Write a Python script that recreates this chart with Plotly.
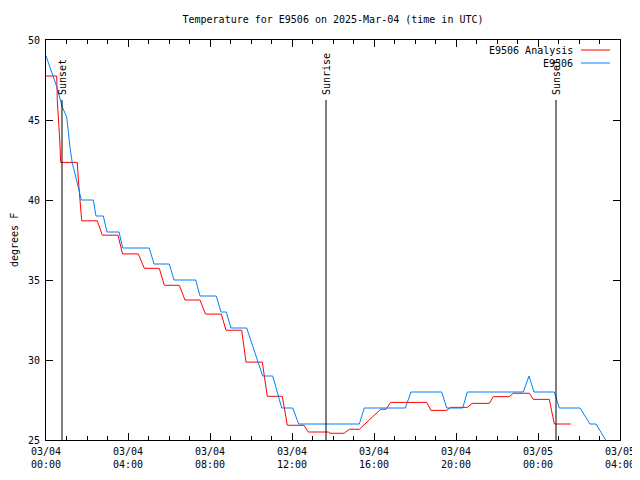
import pandas as pd
import plotly.graph_objects as go

BASE = pd.Timestamp("2025-03-04 00:00")

# Analysis series (hours after 03/04 00:00 UTC, degrees F)
analysis_hours = [0.0, 0.522, 0.551, 0.620, 0.668, 0.717, 1.527, 1.576, 1.644, 1.741,
                  2.502, 2.746, 3.512, 3.732, 4.502, 4.795, 5.527, 5.771, 6.502, 6.780,
                  7.512, 7.780, 8.551, 8.780, 9.546, 9.756, 10.551, 10.795, 11.527, 11.771,
                  12.585, 12.795, 13.771, 13.854, 14.551, 14.795, 15.283, 16.327, 16.585, 16.815,
                  18.571, 18.780, 19.546, 19.741, 20.551, 20.795, 21.624, 21.820, 22.600, 22.795,
                  23.576, 23.771, 24.551, 24.795, 25.595]
analysis_temp = [47.75, 47.75, 46.2, 45.1, 43.8, 42.35, 42.35, 41.3, 40.1, 38.7,
                 38.7, 37.8, 37.8, 36.63, 36.63, 35.73, 35.73, 34.67, 34.67, 33.75,
                 33.75, 32.87, 32.87, 31.86, 31.86, 29.87, 29.87, 27.73, 27.73, 25.92,
                 25.92, 25.5, 25.5, 25.42, 25.42, 25.67, 25.67, 26.92, 26.92, 27.35,
                 27.35, 26.85, 26.85, 27.04, 27.04, 27.29, 27.29, 27.71, 27.71, 27.92,
                 27.92, 27.54, 27.54, 26.0, 26.0]

# Observed series
obs_hours = [0.0, 0.522, 0.795, 1.010, 1.170, 1.283, 1.527, 1.722, 2.307, 2.439,
             2.795, 2.976, 3.561, 3.741, 5.039, 5.268, 6.015, 6.244, 7.302, 7.512,
             8.307, 8.537, 8.795, 9.024, 9.790, 10.571, 11.059, 11.498, 12.034, 12.327,
             15.283, 15.527, 17.527, 17.805, 19.302, 19.546, 20.327, 20.551, 23.283, 23.561,
             23.805, 24.795, 25.039, 26.049, 26.537, 26.829, 27.303]
obs_temp = [49, 47.1, 45.8, 45.2, 43.3, 42.3, 41.05, 40, 40, 39,
            39, 38, 38, 37, 37, 36, 36, 35, 35, 34,
            34, 33, 33, 32, 32, 29, 29, 27, 27, 26,
            26, 27, 27, 28, 28, 27, 27, 28, 28, 29,
            28, 28, 27, 27, 26, 26, 25]

# Sun events
sun_labels = ["Sunset", "Sunrise", "Sunset"]
sun_hours = [0.78, 13.66, 24.878]
sun_line_top = 46.25

tick_hours = [0, 4, 8, 12, 16, 20, 24, 28]
tick_text = ["03/04<br>00:00", "03/04<br>04:00", "03/04<br>08:00", "03/04<br>12:00",
             "03/04<br>16:00", "03/04<br>20:00", "03/05<br>00:00", "03/05<br>04:00"]
y_ticks = [25, 30, 35, 40, 45, 50]

def to_time(hours):
    return [BASE + pd.Timedelta(hours=h) for h in hours]

FONT = "DejaVu Sans Mono"
FS = 10
# The page body adds an 8 px offset; figure is sized/margined to compensate.
W, H = 632, 472
L, T, R, B = 38, 32, 20, 40
PW = W - L - R

fig = go.Figure()
fig.add_trace(go.Scatter(x=to_time(analysis_hours), y=analysis_temp, mode="lines",
                         line=dict(color="#ff0000", width=1), name="E9506 Analysis"))
fig.add_trace(go.Scatter(x=to_time(obs_hours), y=obs_temp, mode="lines",
                         line=dict(color="#0080ff", width=1), name="E9506"))

for lab, h in zip(sun_labels, sun_hours):
    t = BASE + pd.Timedelta(hours=h)
    fig.add_shape(type="line", x0=t, x1=t, y0=25, y1=sun_line_top, xref="x", yref="y",
                  line=dict(color="black", width=1))
    fig.add_annotation(x=t, y=sun_line_top, xref="x", yref="y", text=lab, textangle=-90,
                       showarrow=False, xanchor="center", yanchor="bottom", yshift=3,
                       font=dict(family=FONT, size=FS, color="black"))

# legend (gnuplot style: text right-aligned, sample to the right)
leg_names = ["E9506 Analysis", "E9506"]
leg_colors = ["#ff0000", "#0080ff"]
for i, (n, c) in enumerate(zip(leg_names, leg_colors)):
    yp = 1 - (10 + 13 * i) / 400
    fig.add_annotation(x=(575 - 46) / PW, y=yp, xref="paper", yref="paper", text=n,
                       showarrow=False, xanchor="right", yanchor="middle",
                       font=dict(family=FONT, size=FS, color="black"))
    fig.add_shape(type="line", xref="paper", yref="paper", x0=(581 - 46) / PW,
                  x1=(610 - 46) / PW, y0=yp, y1=yp, line=dict(color=c, width=1))

# y axis title
fig.add_annotation(x=(14 - 46) / PW, y=0.5, xref="paper", yref="paper", text="degrees F",
                   textangle=-90, showarrow=False, xanchor="center", yanchor="middle",
                   font=dict(family=FONT, size=FS, color="black"))

axis_common = dict(showline=True, linecolor="black", linewidth=1, mirror="ticks",
                   ticks="inside", tickcolor="black", showgrid=False, zeroline=False,
                   automargin=False,
                   tickfont=dict(family=FONT, size=FS, color="black"))

fig.update_layout(
    width=W, height=H,
    margin=dict(l=L, r=R, t=T, b=B, autoexpand=False),
    paper_bgcolor="white", plot_bgcolor="white",
    showlegend=False,
    title=dict(text="Temperature for E9506 on 2025-Mar-04 (time in UTC)", x=(333 - 8) / W,
               xanchor="center", yref="container", y=1 - 11 / H, yanchor="middle",
               font=dict(family=FONT, size=FS, color="black")),
    font=dict(family=FONT, size=FS, color="black"),
)
fig.update_xaxes(range=[BASE, BASE + pd.Timedelta(hours=28)],
                 tickvals=to_time(tick_hours), ticktext=tick_text, ticklen=7,
                 ticklabelstandoff=2,
                 minor=dict(ticks="inside", ticklen=4, tickcolor="black", dtick=3600000,
                            showgrid=False),
                 **axis_common)
fig.update_yaxes(range=[25, 50], tickvals=y_ticks, ticklen=7, ticklabelstandoff=3,
                 **axis_common)

fig.write_html("out.html")
